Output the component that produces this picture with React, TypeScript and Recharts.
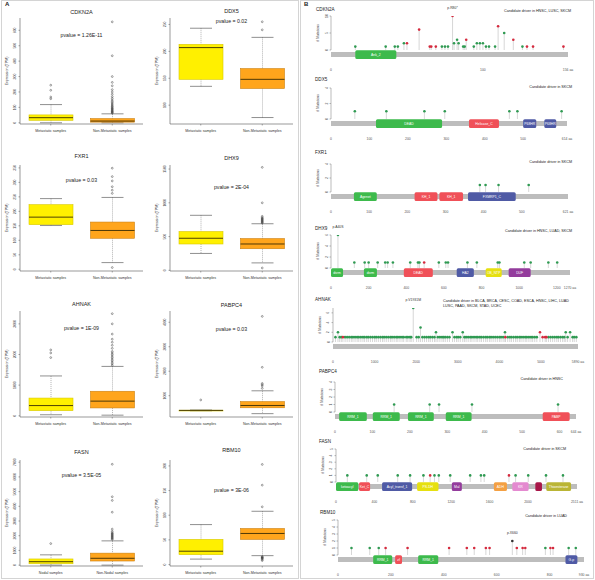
import React from 'react';
import {
  ComposedChart,
  ScatterChart,
  Bar,
  Scatter,
  XAxis,
  YAxis,
  ReferenceLine,
  ReferenceArea,
  LabelList,
} from 'recharts';

// ---------- panel A : expression box plots ----------
const metGroups = ['Metastatic samples', 'Non-Metastatic samples'];
const nodalGroups = ['Nodal samples', 'Non-Nodal samples'];

// [lower whisker, q1, median, q3, upper whisker] per group
const cdkn2aStats = [[0, 16, 33, 51, 118], [0, 4, 11, 27, 58]];
const cdkn2aOutA = [156, 167, 211, 244];
const cdkn2aOutB = [62, 66, 70, 74, 78, 83, 88, 92, 97, 103, 108, 115, 122, 130, 138, 147, 158, 170, 185, 200, 215, 240, 262, 300, 435, 655];
const cdkn2aTicks = [0, 100, 200, 300, 400, 500, 600];

const ddx5Stats = [[135, 148, 207, 213, 243], [77, 131, 148, 168, 226]];
const ddx5OutA: number[] = [];
const ddx5OutB = [240, 255];
const ddx5Ticks = [100, 150, 200, 250];

const fxr1Stats = [[151, 154, 180, 223, 244], [23, 107, 134, 163, 248]];
const fxr1OutA: number[] = [];
const fxr1OutB = [6, 262, 273, 285, 305, 320, 349];
const fxr1Ticks = [0, 50, 100, 150, 200, 250, 300, 350];

const dhx9Stats = [[250, 390, 475, 575, 815], [110, 320, 390, 470, 690]];
const dhx9OutA: number[] = [];
const dhx9OutB = [35, 700, 710, 720, 730, 740, 750, 760, 770, 780, 800, 1000, 1525];
const dhx9Ticks = [0, 500, 1000, 1500];

const ahnakStats = [[33, 167, 333, 578, 1300], [20, 256, 478, 800, 1611]];
const ahnakOutA = [1900, 2050, 2150];
const ahnakOutB = [1650, 1700, 1750, 1800, 1850, 1900, 1950, 2000, 2050, 2100, 2200, 2300, 2400, 2500, 2667, 3000, 3333];
const ahnakTicks = [0, 1000, 2000, 3000];

const pabpc4Stats = [[385, 392, 400, 408, 415], [267, 507, 600, 760, 1200]];
const pabpc4OutA = [827];
const pabpc4OutB = [1300, 1400, 1450, 1500, 2160, 4240];
const pabpc4Ticks = [1000, 2000, 3000, 4000];

const fasnStats = [[0, 93, 233, 419, 698], [0, 279, 465, 814, 1650]];
const fasnOutA = [1465];
const fasnOutB = [1750, 1800, 1850, 1900, 1950, 2000, 2050, 2100, 2150, 2200, 2300, 2450, 3600, 4400, 4650, 6860];
const fasnTicks = [0, 1000, 2000, 3000, 4000, 5000, 6000, 7000];

const rbm10Stats = [[11, 20, 27, 51, 81], [18, 51, 63, 73, 108]];
const rbm10OutA: number[] = [];
const rbm10OutB = [8, 10, 12, 13, 14, 15, 16, 117, 161, 203];
const rbm10Ticks = [0, 50, 100, 150, 200];

// ---------- panel B : mutation lollipops ([aa position, count]) ----------
const cdkn2aMissense = [[16, 1], [36, 1], [42, 1], [44, 1], [48, 2], [73, 1], [75, 1], [77, 1], [81, 2], [83, 3], [84, 2], [87, 1], [88, 1], [94, 1], [96, 2], [98, 2], [100, 2], [102, 1], [104, 1], [108, 1], [114, 5], [126, 1]];
const cdkn2aTrunc = [[50, 2], [58, 6], [65, 1], [66, 1], [69, 1], [89, 3], [110, 7], [120, 3], [129, 1], [133, 1], [153, 1]];
const cdkn2aHot = [{ pos: 80, count: 10, label: 'p.R80*' }];
const cdkn2aDomains = [{ name: 'Ank_2', start: 16, end: 43 }];

const ddx5Missense = [[62, 1], [144, 1], [243, 1], [296, 1], [464, 1], [485, 1], [600, 1]];
const ddx5Domains = [
  { name: 'DEAD', start: 117, end: 289 },
  { name: 'Helicase_C', start: 359, end: 437 },
  { name: 'P68HR', start: 500, end: 534 },
  { name: 'P68HR', start: 555, end: 586 },
];

const fxr1Missense = [[390, 1], [405, 1], [439, 1], [518, 1]];
const fxr1Domains = [
  { name: 'Agenet', start: 60, end: 120 },
  { name: 'KH_1', start: 219, end: 279 },
  { name: 'KH_1', start: 284, end: 346 },
  { name: 'FXMRP1_C', start: 359, end: 484 },
];

const dhx9Missense = [[124, 1], [179, 1], [200, 1], [248, 1], [288, 1], [301, 1], [329, 1], [421, 1], [462, 1], [470, 1], [573, 1], [610, 1], [622, 1], [725, 1], [775, 1], [886, 1], [895, 1], [1027, 1], [1061, 1], [1155, 1], [1202, 1]];
const dhx9Trunc = [[495, 1]];
const dhx9Hot = [{ pos: 37, count: 6, label: 'p.A40S' }];
const dhx9Domains = [
  { name: 'dsrm', start: 0, end: 64 },
  { name: 'dsrm', start: 175, end: 244 },
  { name: 'DEAD', start: 387, end: 541 },
  { name: 'HA2', start: 668, end: 759 },
  { name: 'OB_NTP', start: 822, end: 907 },
  { name: 'DUF', start: 944, end: 1061 },
];

const ahnakMissense = [
  [60, 1], [119, 2], [160, 1], [200, 1], [290, 1], [340, 1], [390, 1], [440, 1], [480, 1], [530, 1], [580, 1], [620, 1],
  [670, 1], [720, 1], [760, 1], [810, 1], [850, 1], [900, 1], [950, 1], [1000, 1], [1040, 1], [1090, 1], [1140, 1],
  [1190, 1], [1230, 1], [1280, 1], [1330, 1], [1380, 1], [1420, 1], [1470, 1], [1520, 1], [1560, 1], [1610, 1],
  [1660, 1], [1700, 1], [1760, 1], [1800, 1], [1850, 1], [1880, 1], [2010, 1], [2060, 1], [2104, 3], [2150, 1],
  [2200, 1], [2250, 1], [2300, 1], [2340, 1], [2390, 1], [2440, 1], [2476, 2], [2520, 1], [2570, 1], [2620, 1],
  [2660, 1], [2700, 1], [2750, 1], [2800, 1], [2873, 2], [2920, 1], [2970, 1], [3010, 1], [3060, 1], [3119, 2],
  [3160, 1], [3200, 1], [3250, 1], [3300, 1], [3340, 1], [3390, 1], [3440, 1], [3480, 1], [3530, 1], [3570, 1],
  [3620, 1], [3670, 1], [3710, 1], [3760, 1], [3800, 1], [3850, 1], [3900, 1], [3950, 1], [4000, 1], [4040, 1],
  [4090, 1], [4135, 2], [4200, 1], [4250, 1], [4290, 1], [4340, 1], [4390, 1], [4430, 1], [4480, 1], [4520, 1],
  [4570, 1], [4620, 1], [4660, 1], [4710, 1], [4760, 1], [4800, 1], [4850, 1], [4900, 1], [5180, 1], [5230, 1],
  [5280, 1], [5330, 1], [5380, 1], [5420, 1], [5470, 1], [5520, 1], [5560, 1], [5595, 2], [5640, 1], [5700, 2],
  [5760, 1], [5800, 1], [5850, 1],
];
const ahnakTrunc = [[238, 1], [4143, 1], [4976, 2], [5040, 1], [5100, 1], [5130, 1]];
const ahnakHot = [{ pos: 1929, count: 7, label: 'p.V1931M' }];

const pabpc4Missense = [[158, 1], [253, 1], [278, 1], [366, 1], [596, 1]];
const pabpc4Domains = [
  { name: 'RRM_1', start: 11, end: 85 },
  { name: 'RRM_1', start: 101, end: 173 },
  { name: 'RRM_1', start: 195, end: 264 },
  { name: 'RRM_1', start: 296, end: 365 },
  { name: 'PABP', start: 555, end: 627 },
];

const fasnMissense = [[118, 1], [320, 1], [435, 1], [643, 1], [772, 1], [911, 1], [1026, 1], [1071, 1], [1190, 1], [1398, 1], [1510, 1], [1544, 1], [1871, 1], [2003, 1], [2188, 1], [2365, 1]];
const fasnTrunc = [[981, 1], [1802, 1]];
const fasnDomains = [
  { name: 'ketoacyl', start: 0, end: 233 },
  { name: 'Ket_C', start: 240, end: 355 },
  { name: 'Acyl_transf_1', start: 480, end: 793 },
  { name: 'PS-DH', start: 845, end: 1068 },
  { name: 'Mal', start: 1207, end: 1311 },
  { name: 'ADH', start: 1645, end: 1781 },
  { name: 'KR', start: 1837, end: 2007 },
  { name: '', start: 2077, end: 2146 },
  { name: 'Thioesterase', start: 2191, end: 2449 },
];

const rbm10Missense = [[51, 1], [120, 1], [154, 1], [784, 1], [872, 1], [899, 1]];
const rbm10Trunc = [[180, 1], [263, 1], [420, 1], [487, 1], [515, 1], [559, 1], [573, 1], [676, 1], [698, 1], [708, 1], [803, 1], [813, 1]];
const rbm10Hot = [{ pos: 659, count: 2, label: 'p.X660' }];
const rbm10Domains = [
  { name: 'RRM_1', start: 133, end: 205 },
  { name: 'zf', start: 216, end: 242 },
  { name: 'RRM_1', start: 303, end: 379 },
  { name: 'G-p', start: 860, end: 905 },
];

// ---------- styles ----------
const FONT = '"Liberation Sans", Arial, sans-serif';
const YELLOW = '#fff000';
const ORANGE = '#ffa51c';
const DOT_GREEN = '#2f9a52';
const DOT_RED = '#d52a3e';
const STEM = '#bcbcbc';
const D_GREEN = '#3dba4c';
const D_RED = '#f05058';
const D_BLUE = '#4f5aa5';
const D_YELLOW = '#e6e010';
const D_PURPLE = '#933c9c';
const D_ORANGE = '#f4a043';
const D_PINK = '#e48ad0';
const D_CRIMSON = '#a81648';
const D_OLIVE = '#bab535';

const Txt = ({ x, y, size = 5, children, right, color = '#222', bold, style }: any) => (
  <div
    style={{
      position: 'absolute',
      top: y - size * 0.6,
      ...(right !== undefined ? { right: 595 - right } : { left: x }),
      fontSize: size,
      lineHeight: 1.1,
      whiteSpace: 'nowrap',
      color,
      fontWeight: bold ? 700 : 400,
      ...style,
    }}
  >
    {children}
  </div>
);

const VTxt = ({ cx, cy, size = 4, children }: any) => (
  <div
    style={{
      position: 'absolute',
      left: cx - 50,
      top: cy - size * 0.6,
      width: 100,
      textAlign: 'center',
      fontSize: size,
      lineHeight: 1.1,
      whiteSpace: 'nowrap',
      color: '#333',
      transform: 'rotate(-90deg)',
    }}
  >
    {children}
  </div>
);

const RotTick = ({ x, y, payload }: any) => (
  <text x={x} y={y} transform={`rotate(-90 ${x} ${y})`} textAnchor="middle" fontSize={3.4} fill="#444">
    {payload.value}
  </text>
);

const CatTick = ({ x, y, payload }: any) => (
  <text x={x} y={y + 4} textAnchor="middle" fontSize={3.6} fill="#333">
    {payload.value}
  </text>
);

const BoxShape = (props: any) => {
  const { x, y, width, height, payload } = props;
  const { lo, q1, med, q3, hi, color, edge } = payload;
  const py = (v: number) => y + (height * (hi - v)) / (hi - lo);
  const cx = x + width / 2;
  const cap = width / 4;
  return (
    <g>
      <line x1={cx} x2={cx} y1={py(hi)} y2={py(q3)} stroke="#666" strokeWidth={0.5} strokeDasharray="1 1" />
      <line x1={cx} x2={cx} y1={py(q1)} y2={py(lo)} stroke="#666" strokeWidth={0.5} strokeDasharray="1 1" />
      <line x1={cx - cap} x2={cx + cap} y1={py(hi)} y2={py(hi)} stroke="#444" strokeWidth={0.6} />
      <line x1={cx - cap} x2={cx + cap} y1={py(lo)} y2={py(lo)} stroke="#444" strokeWidth={0.6} />
      <rect x={x} y={py(q3)} width={width} height={Math.max(py(q1) - py(q3), 0.8)} fill={color} stroke={edge} strokeWidth={0.6} />
      <line x1={x} x2={x + width} y1={py(med)} y2={py(med)} stroke="#3a2c05" strokeWidth={0.9} />
    </g>
  );
};

const OutDot = (props: any) => {
  const { cx, cy } = props;
  if (cx == null || cy == null) return null;
  return <circle cx={cx} cy={cy} r={0.9} fill="none" stroke="#333" strokeWidth={0.45} />;
};

const BoxPanel = ({ left, top, title, titleY, pvalue, pY, groups, stats, outA, outB, ticks, domain }: any) => {
  const colors = [YELLOW, ORANGE];
  const edges = ['#d8c800', '#cc8010'];
  const data = groups.map((g: string, i: number) => {
    const [lo, q1, med, q3, hi] = stats[i];
    return { name: g, range: [lo, hi], lo, q1, med, q3, hi, color: colors[i], edge: edges[i] };
  });
  const out = [
    ...outA.map((v: number) => ({ name: groups[0], v })),
    ...outB.map((v: number) => ({ name: groups[1], v })),
  ];
  return (
    <>
      <div style={{ position: 'absolute', left, top }}>
        <ComposedChart width={148} height={140} data={data} margin={{ top: 18, right: 5, bottom: 0, left: 0 }}>
          <XAxis
            dataKey="name"
            allowDuplicatedCategory={false}
            height={16}
            interval={0}
            tick={<CatTick />}
            tickSize={1.5}
            tickLine={{ stroke: '#555', strokeWidth: 0.5 }}
            axisLine={{ stroke: '#555', strokeWidth: 0.6 }}
          />
          <YAxis
            type="number"
            domain={domain}
            ticks={ticks}
            allowDataOverflow
            interval={0}
            width={20}
            tick={<RotTick />}
            tickSize={1.5}
            tickLine={{ stroke: '#555', strokeWidth: 0.5 }}
            axisLine={{ stroke: '#555', strokeWidth: 0.6 }}
          />
          <YAxis yAxisId="r" orientation="right" width={0} tick={false} tickLine={false} axisLine={{ stroke: '#777', strokeWidth: 0.6 }} />
          <Bar dataKey="range" barSize={44} shape={BoxShape} isAnimationActive={false} />
          <Scatter data={out} dataKey="v" shape={OutDot} isAnimationActive={false} />
        </ComposedChart>
      </div>
      <Txt x={left + 20} y={titleY} size={5.5} style={{ width: 123, textAlign: 'center' }}>{title}</Txt>
      <Txt x={left + 20} y={pY} size={5.2} style={{ width: 123, textAlign: 'center' }}>{pvalue}</Txt>
      <VTxt cx={left + 8} cy={top + 71} size={3.6}>Expression (TPM)</VTxt>
    </>
  );
};

const LolliDot = (color: string) => (props: any) => {
  const { cx, cy } = props;
  if (cx == null || cy == null) return null;
  return <circle cx={cx} cy={cy} r={1.3} fill={color} />;
};

const AreaShape = (fill: string) => (props: any) => {
  const { x, y, width, height } = props;
  return <rect x={x} y={y} width={Math.abs(width)} height={Math.abs(height)} rx={1.5} fill={fill} />;
};

const toPts = (arr: number[][]) => arr.map(([pos, count]) => ({ pos, count }));

const LollipopPanel = (p: any) => {
  const plotH = p.zeroY - p.topY;
  const unit = p.yMax / plotH;
  const below = 11;
  const pad = 10;
  const yMin = -below * unit;
  const chartTop = p.topY - pad;
  const height = plotH + pad + below + 12;
  const missense = toPts(p.missense || []);
  const trunc = toPts(p.trunc || []);
  const hot = p.hot || [];
  const stems = [...missense, ...trunc, ...hot];
  return (
    <>
      <div style={{ position: 'absolute', left: 300, top: chartTop }}>
        <ScatterChart width={295} height={height} margin={{ top: pad, right: 595 - p.x1, bottom: 0, left: 0 }}>
          <XAxis
            type="number"
            dataKey="pos"
            domain={[0, p.len]}
            ticks={[...p.xTicks, p.len]}
            allowDataOverflow
            interval={0}
            height={12}
            axisLine={false}
            tickLine={false}
            tick={{ fontSize: 3.4, fill: '#555' }}
            tickFormatter={(v: number) => (v === p.len ? `${v} aa` : `${v}`)}
          />
          <YAxis
            type="number"
            dataKey="count"
            domain={[yMin, p.yMax]}
            ticks={p.yTicks}
            allowDataOverflow
            interval={0}
            width={p.x0 - 300}
            axisLine={false}
            tickSize={1.5}
            tickLine={{ stroke: '#777', strokeWidth: 0.5 }}
            tick={<RotTick />}
          />
          <ReferenceLine segment={[{ x: 0, y: 0 }, { x: 0, y: p.yMax }]} stroke="#777" strokeWidth={0.5} ifOverflow="visible" />
          <ReferenceArea x1={0} x2={p.len} y1={-2 * unit} y2={-7 * unit} fill="#bdbdbd" fillOpacity={1} stroke="none" />
          {(p.domains || []).map((d: any, i: number) => (
            <ReferenceArea
              key={`d${i}`}
              x1={d.start}
              x2={d.end}
              y1={-0.2 * unit}
              y2={-9 * unit}
              shape={AreaShape(p.colors[i])}
              label={{ value: d.name, fill: '#fff', fontSize: 3.4, position: 'center' }}
            />
          ))}
          {stems.map((s: any, i: number) => (
            <ReferenceLine key={`s${i}`} segment={[{ x: s.pos, y: 0 }, { x: s.pos, y: s.count }]} stroke={STEM} strokeWidth={0.6} />
          ))}
          <Scatter data={missense} shape={LolliDot(DOT_GREEN)} isAnimationActive={false} />
          <Scatter data={trunc} shape={LolliDot(DOT_RED)} isAnimationActive={false} />
          {hot.length > 0 && (
            <Scatter data={hot} shape={LolliDot(p.hotColor || DOT_RED)} isAnimationActive={false}>
              <LabelList dataKey="label" position="top" offset={2} fontSize={3.4} fill="#333" />
            </Scatter>
          )}
        </ScatterChart>
      </div>
      <Txt x={p.geneX} y={p.geneY} size={4.6}>{p.gene}</Txt>
      {p.note.map((line: string, i: number) =>
        p.noteLeft ? (
          <Txt key={i} x={p.noteLeft} y={p.noteY + i * 5} size={3.7}>{line}</Txt>
        ) : (
          <Txt key={i} right={p.noteRight} y={p.noteY + i * 5} size={3.7}>{line}</Txt>
        ),
      )}
      <VTxt cx={p.x0 - 12} cy={(p.topY + p.zeroY) / 2} size={3.4}># Mutations</VTxt>
    </>
  );
};

export default function App() {
  return (
    <div
      style={{
        position: 'absolute',
        left: 0,
        top: 0,
        width: 595,
        height: 580,
        background: '#fff',
        overflow: 'hidden',
        fontFamily: FONT,
      }}
    >
      <div style={{ position: 'absolute', left: 1, top: 0, width: 296, height: 577, border: '1px solid #d4d4d4' }} />
      <div style={{ position: 'absolute', left: 300, top: 0, width: 292, height: 577, border: '1px solid #d4d4d4' }} />
      <Txt x={5} y={5} size={6} bold>A</Txt>
      <Txt x={304} y={5} size={6} bold>B</Txt>

      <BoxPanel left={0} top={0} title="CDKN2A" titleY={12} pvalue="pvalue = 1.26E-11" pY={36} groups={metGroups} stats={cdkn2aStats} outA={cdkn2aOutA} outB={cdkn2aOutB} ticks={cdkn2aTicks} domain={[-8, 680]} />
      <BoxPanel left={150} top={0} title="DDX5" titleY={11} pvalue="pvalue = 0.02" pY={22} groups={metGroups} stats={ddx5Stats} outA={ddx5OutA} outB={ddx5OutB} ticks={ddx5Ticks} domain={[65, 262]} />
      <BoxPanel left={0} top={147} title="FXR1" titleY={156} pvalue="pvalue = 0.03" pY={181} groups={metGroups} stats={fxr1Stats} outA={fxr1OutA} outB={fxr1OutB} ticks={fxr1Ticks} domain={[-6, 360]} />
      <BoxPanel left={150} top={147} title="DHX9" titleY={158} pvalue="pvalue = 2E-04" pY={188} groups={metGroups} stats={dhx9Stats} outA={dhx9OutA} outB={dhx9OutB} ticks={dhx9Ticks} domain={[-10, 1560]} />
      <BoxPanel left={0} top={293} title="AHNAK" titleY={304} pvalue="pvalue = 1E-09" pY={329} groups={metGroups} stats={ahnakStats} outA={ahnakOutA} outB={ahnakOutB} ticks={ahnakTicks} domain={[-40, 3420]} />
      <BoxPanel left={150} top={293} title="PABPC4" titleY={305} pvalue="pvalue = 0.03" pY={330} groups={metGroups} stats={pabpc4Stats} outA={pabpc4OutA} outB={pabpc4OutB} ticks={pabpc4Ticks} domain={[130, 4460]} />
      <BoxPanel left={0} top={442} title="FASN" titleY={452} pvalue="pvalue = 3.5E-05" pY={476} groups={nodalGroups} stats={fasnStats} outA={fasnOutA} outB={fasnOutB} ticks={fasnTicks} domain={[-60, 7150]} />
      <BoxPanel left={150} top={442} title="RBM10" titleY={450} pvalue="pvalue = 3E-06" pY={491} groups={metGroups} stats={rbm10Stats} outA={rbm10OutA} outB={rbm10OutB} ticks={rbm10Ticks} domain={[-3, 212]} />

      <LollipopPanel gene="CDKN2A" geneX={316} geneY={10} note={['Candidate driver in HNSC, LUSC, SKCM']} noteRight={571} noteY={11}
        len={156} xTicks={[0, 100]} yTicks={[0, 5, 10]} yMax={10} topY={16} zeroY={50} x0={331} x1={568}
        missense={cdkn2aMissense} trunc={cdkn2aTrunc} hot={cdkn2aHot} domains={cdkn2aDomains} colors={[D_GREEN]} />
      <LollipopPanel gene="DDX5" geneX={315} geneY={80} note={['Candidate driver in SKCM']} noteRight={572} noteY={87}
        len={614} xTicks={[0, 100, 200, 300, 400, 500]} yTicks={[0, 2, 4]} yMax={4} topY={88} zeroY={119} x0={331} x1={567}
        missense={ddx5Missense} domains={ddx5Domains} colors={[D_GREEN, D_RED, D_BLUE, D_BLUE]} />
      <LollipopPanel gene="FXR1" geneX={315} geneY={153} note={['Candidate driver in SKCM']} noteRight={572} noteY={162}
        len={621} xTicks={[0, 100, 200, 300, 400, 500]} yTicks={[0, 2, 4]} yMax={4} topY={164} zeroY={192} x0={331} x1={568}
        missense={fxr1Missense} domains={fxr1Domains} colors={[D_GREEN, D_RED, D_RED, D_BLUE]} />
      <LollipopPanel gene="DHX9" geneX={315} geneY={229} note={['Candidate driver in HNSC, LUAD, SKCM']} noteRight={572} noteY={231}
        len={1270} xTicks={[0, 200, 400, 600, 800, 1000, 1200]} yTicks={[0, 2, 4, 6]} yMax={6} topY={235} zeroY={268} x0={331} x1={570}
        missense={dhx9Missense} trunc={dhx9Trunc} hot={dhx9Hot} hotColor={DOT_GREEN} domains={dhx9Domains}
        colors={[D_GREEN, D_GREEN, D_RED, D_BLUE, D_YELLOW, D_PURPLE]} />
      <LollipopPanel gene="AHNAK" geneX={315} geneY={300}
        note={['Candidate driver in BLCA, BRCA, CESC, COAD, ESCA, HNSC, LIHC, LUAD', 'LUSC, PAAD, SKCM, STAD, UCEC']} noteLeft={443} noteY={301}
        len={5890} xTicks={[0, 1000, 2000, 3000, 4000, 5000]} yTicks={[0, 2, 4, 6]} yMax={7} topY={308} zeroY={342} x0={333} x1={578}
        missense={ahnakMissense} trunc={ahnakTrunc} hot={ahnakHot} hotColor={DOT_GREEN} domains={[]} colors={[]} />
      <LollipopPanel gene="PABPC4" geneX={319} geneY={372} note={['Candidate driver in HNSC']} noteRight={563} noteY={379}
        len={644} xTicks={[0, 100, 200, 300, 400, 500, 600]} yTicks={[0, 1, 2, 3, 4]} yMax={4} topY={382} zeroY={412} x0={335} x1={576}
        missense={pabpc4Missense} domains={pabpc4Domains} colors={[D_GREEN, D_GREEN, D_GREEN, D_GREEN, D_RED]} />
      <LollipopPanel gene="FASN" geneX={319} geneY={442} note={['Candidate driver in SKCM']} noteRight={566} noteY={449}
        len={2511} xTicks={[0, 400, 800, 1200, 1600, 2000]} yTicks={[0, 1, 2, 3, 4, 5]} yMax={5} topY={449} zeroY={482} x0={336} x1={577}
        missense={fasnMissense} trunc={fasnTrunc} domains={fasnDomains}
        colors={[D_GREEN, D_RED, D_BLUE, D_YELLOW, D_PURPLE, D_ORANGE, D_PINK, D_CRIMSON, D_OLIVE]} />
      <LollipopPanel gene="RBM10" geneX={320} geneY={513} note={['Candidate driver in LUAD']} noteRight={567} noteY={516}
        len={930} xTicks={[0, 200, 400, 600, 800]} yTicks={[0, 1, 2, 3, 4, 5]} yMax={5} topY={520} zeroY={555} x0={338} x1={584}
        missense={rbm10Missense} trunc={rbm10Trunc} hot={rbm10Hot} hotColor="#333" domains={rbm10Domains}
        colors={[D_GREEN, D_RED, D_GREEN, D_BLUE]} />
    </div>
  );
}
